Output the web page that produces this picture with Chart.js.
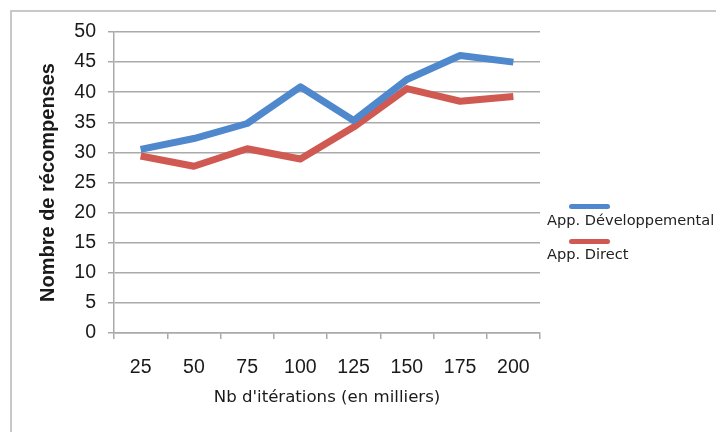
<!DOCTYPE html>
<html lang="fr">
<head>
  <meta charset="UTF-8">
  <title>Nombre de récompenses</title>
  <style>
    body { margin: 0; background: #fff; }
    #wrap { position: relative; width: 716px; height: 432px; overflow: hidden; }
    #frame { position: absolute; left: 10px; top: 10px; width: 800px; height: 500px; border-top: 2px solid #c8c8c8; border-left: 2px solid #c8c8c8; }
    canvas { position: absolute; left: 0; top: 0; }
    .leg { position: absolute; left: 547px; font-family: "DejaVu Sans", sans-serif; font-size: 14.6px; color: #222; white-space: nowrap; }
    .leg i { position: absolute; left: 22px; width: 41px; height: 5px; border-radius: 3px; }
  </style>
</head>
<body>
  <div id="wrap">
    <div id="frame"></div>
    <canvas id="chart" width="716" height="432"></canvas>
    <div class="leg" style="top:211px"><i style="top:-7px;background:#4f88cc"></i>App. Développemental</div>
    <div class="leg" style="top:245px"><i style="top:-6px;background:#d05a52"></i>App. Direct</div>
  </div>

  <script src="https://cdn.jsdelivr.net/npm/chart.js"></script>
  <script>
    const iterations = ['25', '50', '75', '100', '125', '150', '175', '200'];
    const developpemental = [30.5, 32.3, 34.8, 40.9, 35.3, 42.1, 46.1, 45.0];
    const direct = [29.4, 27.7, 30.6, 28.9, 34.2, 40.6, 38.5, 39.3];

    const gridColor = '#aaaaaa';

    new Chart(document.getElementById('chart'), {
      type: 'line',
      data: {
        labels: iterations,
        datasets: [
          { label: 'App. Développemental', data: developpemental, borderColor: '#4f88cc', borderWidth: 7, pointRadius: 0, tension: 0, borderJoinStyle: 'round' },
          { label: 'App. Direct', data: direct, borderColor: '#d05a52', borderWidth: 7, pointRadius: 0, tension: 0, borderJoinStyle: 'round' }
        ]
      },
      options: {
        responsive: false,
        animation: false,
        layout: { padding: { left: 0, right: 176, top: 32, bottom: 0 } },
        plugins: { legend: { display: false }, tooltip: { enabled: false } },
        scales: {
          x: {
            offset: true,
            grid: { offset: true, drawOnChartArea: false, color: gridColor, lineWidth: 1.5, tickLength: 6 },
            border: { color: gridColor, width: 1.5 },
            ticks: { color: '#1a1a1a', padding: 17, maxRotation: 0, font: { family: 'Liberation Sans', size: 19.5 } },
            title: { display: true, text: "Nb d'itérations (en milliers)", color: '#1a1a1a', padding: { top: 0, bottom: 24 }, font: { family: 'DejaVu Sans', size: 16.6 } },
            afterFit: s => { s.height = 99; }
          },
          y: {
            min: 0, max: 50,
            ticks: { stepSize: 5, color: '#1a1a1a', padding: 12, font: { family: 'Liberation Sans', size: 19.5 } },
            grid: { color: gridColor, lineWidth: 1.5, tickLength: 6 },
            border: { color: gridColor, width: 1.5 },
            title: { display: true, text: 'Nombre de récompenses', color: '#1a1a1a', padding: { top: 36, bottom: 0 }, font: { family: 'Liberation Sans', size: 20, weight: 'bold' } },
            afterFit: s => { s.width = 114; }
          }
        }
      }
    });
  </script>
</body>
</html>
